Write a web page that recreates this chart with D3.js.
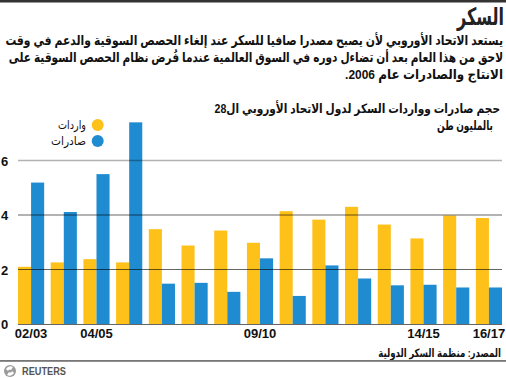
<!DOCTYPE html>
<html><head><meta charset="utf-8">
<script src="https://cdn.jsdelivr.net/npm/d3@7"></script>
<style>
html,body{margin:0;padding:0;background:#fff;}
svg{display:block;}
text{font-family:Arial,"Liberation Sans","DejaVu Sans",sans-serif;}
.ar{direction:rtl;unicode-bidi:embed;}
</style></head><body>
<svg id="c" width="506" height="378"></svg>
<script>
const years = ["02/03","03/04","04/05","05/06","06/07","07/08","08/09","09/10","10/11","11/12","12/13","13/14","14/15","15/16","16/17"];
const imports = [2.1,2.26,2.38,2.26,3.48,2.88,3.43,2.98,4.14,3.83,4.3,3.65,3.14,3.98,3.89];
const exports = [5.19,4.11,5.5,7.4,1.48,1.51,1.18,2.41,1.03,2.15,1.67,1.42,1.44,1.34,1.34];
const tickLabels = ["02/03","04/05","09/10","14/15","16/17"];
const yTicks = [0,2,4,6];
const seriesNames = ["واردات","صادرات"];
const title = "السكر";
const subtitle = ["يستعد الاتحاد الأوروبي لأن يصبح مصدرا صافيا للسكر عند إلغاء الحصص السوقية والدعم في وقت",
  "لاحق من هذا العام بعد أن تضاءل دوره في السوق العالمية عندما فُرض نظام الحصص السوقية على",
  "الانتاج والصادرات عام 2006."];
const chartTitle = ["حجم صادرات وواردات السكر لدول الاتحاد الأوروبي ال28","بالمليون طن"];
const source = "المصدر: منظمة السكر الدولية";

const YEL = "#fec11a", BLU = "#1f8bd1";
const svg = d3.select("#c");

// right-aligned Arabic text, horizontally fitted to a target width with a transform
function arText(str, x, yy, size, weight, len){
  const g = svg.append("g").attr("transform",`translate(${x},${yy})`);
  const t = g.append("text").attr("class","ar").attr("x",0).attr("y",0).attr("text-anchor","start")
    .attr("font-size",size).attr("font-weight",weight).attr("fill","#111").text(str);
  if(len){
    const w = t.node().getComputedTextLength();
    if(w>0) g.attr("transform",`translate(${x},${yy}) scale(${len/w},1)`);
  }
  return t;
}

// top rule
svg.append("rect").attr("x",0).attr("y",0).attr("width",506).attr("height",2.5).attr("fill","#333");

arText(title, 504, 25, 24, "bold", 47).attr("fill","#222");

const subY = [45,62,79];
const subLen = [498, 495, 158];
subtitle.forEach((s,i)=> arText(s, 503, subY[i], 13.5, "bold", subLen[i]));

arText(chartTitle[0], 500, 113, 13, "bold", 286);
arText(chartTitle[1], 493, 130, 13, "bold", 56);

// scales
const x0 = d3.scaleBand().domain(years).range([18,502]).paddingInner(0.2).paddingOuter(0);
const x1 = d3.scaleBand().domain(["imp","exp"]).range([0,x0.bandwidth()]);
const y = d3.scaleLinear().domain([0,6]).range([324,160.5]);

const g = svg.append("g");
g.selectAll("rect.imp").data(years).join("rect").attr("class","imp")
  .attr("x",d=>x0(d)+x1("imp")).attr("width",x1.bandwidth())
  .attr("y",(d,i)=>y(imports[i])).attr("height",(d,i)=>y(0)-y(imports[i])).attr("fill",YEL);
g.selectAll("rect.exp").data(years).join("rect").attr("class","exp")
  .attr("x",d=>x0(d)+x1("exp")).attr("width",x1.bandwidth())
  .attr("y",(d,i)=>y(exports[i])).attr("height",(d,i)=>y(0)-y(exports[i])).attr("fill",BLU);

// gridlines on top
yTicks.filter(t=>t>0).forEach(t=>{
  svg.append("line").attr("x1",18).attr("x2",502).attr("y1",y(t)).attr("y2",y(t))
   .attr("stroke", t===6 ? "rgba(0,0,0,0.3)" : "rgba(0,0,0,0.6)").attr("stroke-width", t===6?1.5:1);
});
// x axis line
svg.append("line").attr("x1",18).attr("x2",502).attr("y1",y(0)+0.5).attr("y2",y(0)+0.5)
  .attr("stroke","#666").attr("stroke-width",1.2);

// y labels
yTicks.forEach(t=>{
  svg.append("text").attr("x",1).attr("y",y(t)+5).attr("font-size",13).attr("font-weight","bold")
   .attr("fill","#111").text(t);
});

// x labels
const xAxis = svg.append("g").attr("transform",`translate(0,${y(0)})`)
  .call(d3.axisBottom(x0).tickValues(tickLabels).tickSize(0).tickPadding(5));
xAxis.select(".domain").remove();
xAxis.selectAll("text").attr("font-size",13).attr("font-weight","bold").attr("fill","#111")
  .attr("font-family","Arial,'Liberation Sans',sans-serif");

// legend
const legLen = [28, 35];
[[YEL,125],[BLU,141]].forEach((c,i)=>{
  svg.append("circle").attr("cx",97.7).attr("cy",c[1]).attr("r",6).attr("fill",c[0]);
  arText(seriesNames[i], 86, c[1]+4, 12, "normal", legLen[i]);
});

// source
arText(source, 501, 357, 11.5, "bold", 123);

// bottom rule
svg.append("rect").attr("x",0).attr("y",360).attr("width",506).attr("height",1.8).attr("fill","#777");

// Reuters logo
const lg = svg.append("g").attr("transform","translate(10,371)");
lg.append("circle").attr("r",6).attr("fill","#9a9a9a");
lg.append("path").attr("d","M-4,-2 A5,5 0 0,1 3,-4 L1,-1 A2,2 0 0,0 -2,0 Z").attr("fill","#fff");
lg.append("path").attr("d","M4,2 A5,5 0 0,1 -3,4 L-1,1 A2,2 0 0,0 2,0 Z").attr("fill","#fff");
svg.append("text").attr("x",22).attr("y",375).attr("font-size",10.5).attr("font-weight","bold")
  .attr("fill","#555").attr("textLength",44).attr("lengthAdjust","spacingAndGlyphs").text("REUTERS");
</script>
</body></html>
